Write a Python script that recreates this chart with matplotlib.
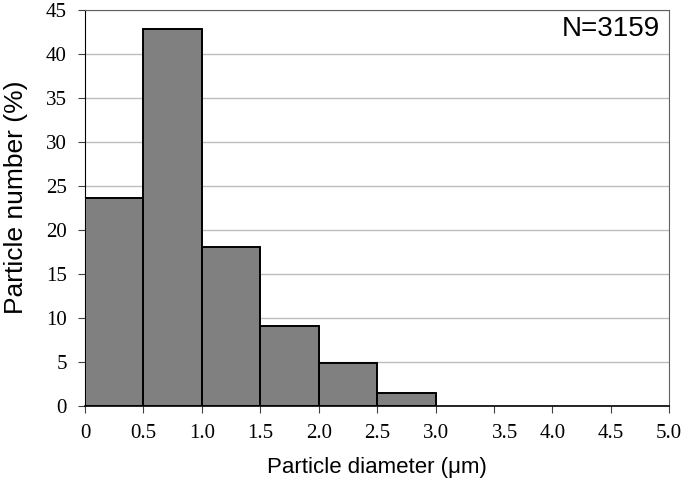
import numpy as np
import matplotlib
matplotlib.use('Agg')
import matplotlib.pyplot as plt
import matplotlib.transforms as mtransforms

# bin edges (um) and particle number (%)
bin_edges = [0.0, 0.5, 1.0, 1.5, 2.0, 2.5, 3.0, 3.5, 4.0, 4.5, 5.0]
percent = [23.7, 42.9, 18.1, 9.1, 4.9, 1.5, 0, 0, 0, 0]
x_labels = ['0', '0.5', '1.0', '1.5', '2.0', '2.5', '3.0', '3.5', '4.0', '4.5', '5.0']
y_ticks = [0, 5, 10, 15, 20, 25, 30, 35, 40, 45]
n_label = 'N=3159'

fig = plt.figure(figsize=(6.85, 4.87), dpi=100)
ax = fig.add_axes([0.124, 0.166, 0.853, 0.813])

edges = np.array(bin_edges)
widths = np.diff(edges)
vals = np.array(percent)
mask = vals > 0
ax.bar(edges[:-1][mask], vals[mask], width=widths[mask], align='edge',
       color='#808080', edgecolor='black', linewidth=1.4, zorder=3)

ax.set_xlim(0, 5.0)
ax.set_ylim(0, 45)
ax.set_yticks(y_ticks)
ax.set_xticks(bin_edges)
ax.set_xticklabels(x_labels)
ax.yaxis.grid(True, color='#bdbdbd', linewidth=1.0, zorder=0)
ax.set_axisbelow(True)

for lab in ax.get_xticklabels() + ax.get_yticklabels():
    lab.set_fontfamily('Liberation Serif')
    lab.set_fontsize(15)
ax.tick_params(axis='both', direction='out', length=5, width=0.8, color='#404040')
ax.tick_params(axis='x', pad=8)
ax.tick_params(axis='y', pad=8)

# the "3.5" label sits a little right of its tick in the original
lab35 = ax.get_xticklabels()[x_labels.index('3.5')]
lab35.set_transform(lab35.get_transform() + mtransforms.ScaledTranslation(0.11, 0, fig.dpi_scale_trans))

ax.spines['left'].set_color('black')
ax.spines['bottom'].set_color('black')
ax.spines['bottom'].set_linewidth(1.2)
ax.spines['top'].set_color('#606060')
ax.spines['right'].set_color('#606060')

ax.set_xlabel('Particle diameter (\u03bcm)', fontfamily='Liberation Sans', fontsize=16, labelpad=10)
ax.set_ylabel('Particle number (%)', fontfamily='Liberation Sans', fontsize=19)
ax.yaxis.set_label_coords(-0.098, 0.528)

ax.text(0.985, 0.985, n_label, transform=ax.transAxes, ha='right', va='top',
        fontfamily='Liberation Sans', fontsize=20)

fig.savefig('out.png', dpi=100)
